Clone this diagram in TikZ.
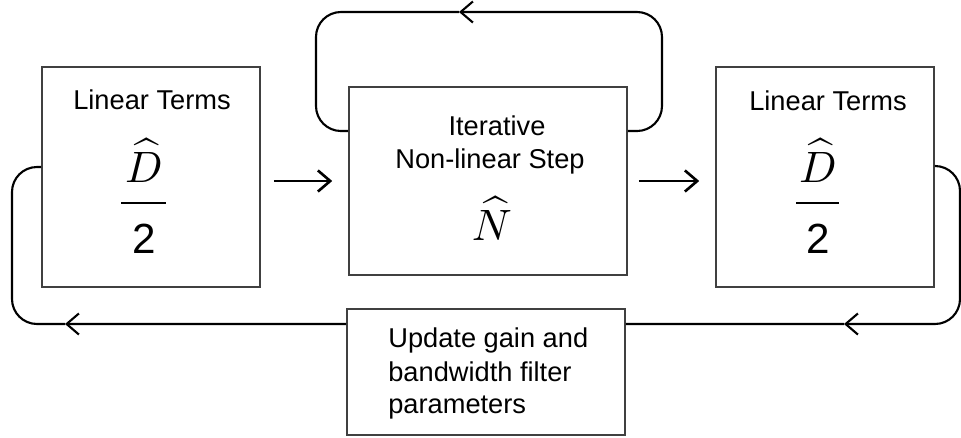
\documentclass[tikz,border=0pt]{standalone}
\usepackage{fontspec}
\setmainfont{Liberation Sans}
\usetikzlibrary{arrows.meta, calc}

\begin{document}
\begin{tikzpicture}[x=0.02cm, y=-0.02cm,
	blk/.style={draw=black!75, line width=0.9pt, inner sep=0pt},
	lbl/.style={inner sep=0pt, font=\fontsize{15.5}{18.7}\selectfont},
	sym/.style={inner sep=0pt, scale=2.5},
	num/.style={inner sep=0pt, font=\fontsize{24}{28}\selectfont},
	loop/.style={line width=1.2pt, rounded corners=0.5cm},
	tip/.style={-{Straight Barb[length=7pt, width=12pt]}}]
	\useasboundingbox (0,0) rectangle (961,437);
	% blocks
	\node[blk, minimum width=4.36cm, minimum height=4.4cm] (lin1) at (151,177) {};
	\node[blk, minimum width=5.56cm, minimum height=3.76cm] (nls) at (488,181) {};
	\node[blk, minimum width=4.36cm, minimum height=4.4cm] (lin2) at (825,177) {};
	\node[blk, minimum width=5.56cm, minimum height=2.52cm] (upd) at (486,372) {};
	% texts in the blocks
	\node[lbl, anchor=base] (lin1t) at (152,109) {Linear Terms};
	\node[sym, anchor=base] (lin1d) at (144,182) {$\widehat{D}$};
	\draw[line width=1.1pt] (121,203) -- (166,203);
	\node[num, anchor=base] (lin1n) at (144,253) {2};
	\node[lbl, anchor=base] (lin2t) at (828,110) {Linear Terms};
	\node[sym, anchor=base] (lin2d) at (818,182) {$\widehat{D}$};
	\draw[line width=1.1pt] (796,203) -- (839,203);
	\node[num, anchor=base] (lin2n) at (818,253) {2};
	\node[lbl, anchor=base] (nlst1) at (497,135) {Iterative};
	\node[lbl, anchor=base] (nlst2) at (490,168) {Non-linear Step};
	\node[sym, anchor=base] (nlsn) at (492,240) {$\widehat{N}$};
	\node[lbl, anchor=base west] (upd1) at (388,347) {Update gain and};
	\node[lbl, anchor=base west] (upd2) at (388,381) {bandwidth filter};
	\node[lbl, anchor=base west] (upd3) at (388,413) {parameters};
	% forward arrows
	\draw[line width=1.5pt, tip] ($(lin1.east |- nls.west)+(13,0)$) -- ($(nls.west)+(-16,0)$);
	\draw[line width=1.5pt, tip] ($(nls.east)+(11,0)$) -- ($(lin2.west |- nls.east)+(-16,0)$);
	% iteration loop
	\coordinate (topar) at (459,12);
	\draw[loop, tip] ([yshift=1cm]nls.east) -| (662,12) -- (topar);
	\draw[loop] (topar) -- (316,12) |- ([yshift=1cm]nls.west);
	% feedback loop
	\coordinate (botar2) at (844,324);
	\coordinate (botar1) at (65,324);
	\draw[loop, tip] ([yshift=0.22cm]lin2.east) -| (960,324) -- (botar2);
	\draw[loop] (botar2) -- ([yshift=0.96cm]upd.east);
	\draw[loop, tip] ([yshift=0.96cm]upd.west) -- (botar1);
	\draw[loop] (botar1) -- (12,324) |- ([yshift=0.2cm]lin1.west);
\end{tikzpicture}
\end{document}
